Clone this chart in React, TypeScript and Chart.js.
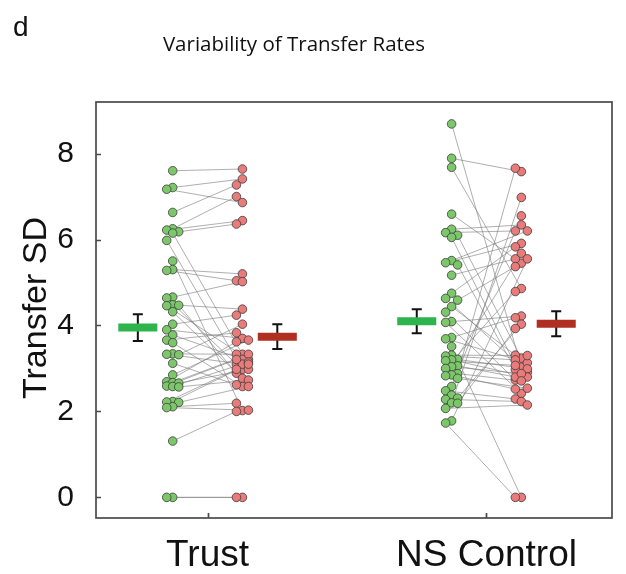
import React, { useEffect, useRef } from "react";
import { Chart, registerables } from "chart.js";

Chart.register(...registerables);

const categories = ["Trust", "NS Control"];
const yTickValues = [0, 2, 4, 6, 8];
const chartTitle = "Variability of Transfer Rates";
const panelLetter = "d";
const yAxisTitle = "Transfer SD";

// paired values: first condition (green) -> second condition (red)
const trustGreen = [7.60, 7.21, 7.17, 6.63, 6.25, 6.22, 6.18, 6.15, 5.98, 5.50, 5.30, 5.28, 4.66, 4.64, 4.48, 4.47, 4.46, 4.32, 4.03, 3.90, 3.78, 3.66, 3.60, 3.34, 3.33, 3.32, 3.12, 2.85, 2.69, 2.67, 2.66, 2.59, 2.58, 2.57, 2.23, 2.22, 2.21, 2.11, 2.09, 1.31, 0.0, 0.0];
const trustRed = [7.64, 7.41, 6.86, 7.27, 7.00, 6.44, 6.36, 3.33, 2.98, 2.02, 5.20, 5.04, 5.02, 3.10, 4.38, 2.89, 3.21, 2.77, 4.24, 3.70, 3.21, 3.83, 2.58, 3.33, 3.10, 4.03, 2.62, 3.66, 3.62, 3.33, 2.98, 3.21, 3.15, 2.73, 3.10, 2.98, 2.58, 2.19, 2.03, 2.00, 0.0, 0.0];
const nsGreen = [8.69, 7.89, 7.68, 6.59, 6.24, 6.16, 6.10, 6.05, 5.51, 5.46, 5.41, 5.17, 4.75, 4.63, 4.59, 4.44, 4.31, 4.09, 4.07, 3.72, 3.69, 3.51, 3.31, 3.29, 3.21, 3.20, 3.18, 3.06, 3.04, 3.00, 2.88, 2.85, 2.83, 2.77, 2.58, 2.48, 2.38, 2.31, 2.28, 2.20, 2.19, 2.07, 1.78, 1.73];
const nsRed = [3.03, 7.58, 4.86, 5.45, 6.34, 6.20, 3.24, 2.80, 6.20, 5.91, 2.97, 5.55, 5.83, 2.91, 5.37, 3.31, 2.73, 4.22, 2.42, 4.18, 3.13, 0.0, 3.30, 3.20, 2.99, 2.80, 3.07, 2.80, 2.88, 4.79, 2.71, 2.52, 5.68, 2.54, 6.55, 2.29, 7.66, 4.03, 2.23, 6.98, 3.93, 2.15, 5.55, 0.0];

const greenMeans = [3.95, 4.10];
const greenSEM = [0.31, 0.28];
const redMeans = [3.74, 4.04];
const redSEM = [0.29, 0.29];

const GREEN_DOT = "#7cc76a";
const RED_DOT = "#ea7b7b";
const GREEN_BAR = "#2fb34c";
const RED_BAR = "#b12f22";

const catX = [1, 2];
const dotOffset = 0.125;
const barOffset = 0.25;
const colStep = 0.0215;
const barHalf = 0.07;
const capHalf = 0.018;

function swarmColumns(values: number[]): number[] {
  const placed: { v: number; c: number }[] = [];
  const cols: number[] = [];
  const order = [0, -1, 1];
  for (const v of values) {
    let best = 0;
    let bestDist = -1;
    let chosen: number | null = null;
    for (const c of order) {
      let minD = Infinity;
      for (const p of placed) if (p.c === c) minD = Math.min(minD, Math.abs(p.v - v));
      if (minD >= 0.17) { chosen = c; break; }
      if (minD > bestDist) { bestDist = minD; best = c; }
    }
    const col = chosen === null ? best : chosen;
    placed.push({ v, c: col });
    cols.push(col);
  }
  return cols;
}

function dotPoints(values: number[], center: number) {
  const cols = swarmColumns(values);
  return values.map((v, i) => ({ x: center + cols[i] * colStep, y: v }));
}

const framePlugin = {
  id: "frame",
  afterDraw(chart: any) {
    const { ctx, chartArea } = chart;
    const xs = chart.scales.x;
    const ys = chart.scales.y;
    ctx.save();
    ctx.strokeStyle = "#4a4a4a";
    ctx.lineWidth = 1.7;
    ctx.strokeRect(chartArea.left, chartArea.top, chartArea.right - chartArea.left, chartArea.bottom - chartArea.top);
    ctx.beginPath();
    for (const v of yTickValues) {
      const py = Math.round(ys.getPixelForValue(v)) + 0.5;
      ctx.moveTo(chartArea.left, py);
      ctx.lineTo(chartArea.left + 5, py);
    }
    for (const v of catX) {
      const px = Math.round(xs.getPixelForValue(v)) + 0.5;
      ctx.moveTo(px, chartArea.bottom);
      ctx.lineTo(px, chartArea.bottom - 5);
    }
    ctx.stroke();

    ctx.fillStyle = "#111";
    ctx.font = "20.5px 'Open Sans'";
    ctx.textAlign = "center";
    ctx.textBaseline = "alphabetic";
    ctx.fillText(chartTitle, 294, 51);

    ctx.font = "28px 'Liberation Sans'";
    ctx.textAlign = "left";
    ctx.fillText(panelLetter, 13, 36);

    ctx.translate(37, 308);
    ctx.rotate(-Math.PI / 2);
    ctx.font = "34px 'Liberation Sans'";
    ctx.textAlign = "center";
    ctx.textBaseline = "middle";
    ctx.fillText(yAxisTitle, 0, 0);
    ctx.restore();
  },
};

export default function App() {
  const ref = useRef<HTMLCanvasElement | null>(null);
  useEffect(() => {
    document.body.style.margin = "0";
    if (!ref.current) return;

    const pairs = [
      { g: trustGreen, r: trustRed },
      { g: nsGreen, r: nsRed },
    ];
    const datasets: any[] = [];

    pairs.forEach((p, gi) => {
      const gPts = dotPoints(p.g, catX[gi] - dotOffset);
      const rPts = dotPoints(p.r, catX[gi] + dotOffset);
      const linePts: any[] = [];
      gPts.forEach((pt, i) => {
        linePts.push(pt, rPts[i], { x: null, y: null });
      });
      datasets.push({
        type: "line",
        data: linePts,
        borderColor: "rgba(120,120,120,0.75)",
        borderWidth: 0.8,
        pointRadius: 0,
        spanGaps: false,
        order: 6,
      });
      datasets.push({
        type: "scatter",
        data: gPts,
        backgroundColor: GREEN_DOT,
        borderColor: "#3c3c3c",
        borderWidth: 0.8,
        pointRadius: 4.3,
        order: 4,
      });
      datasets.push({
        type: "scatter",
        data: rPts,
        backgroundColor: RED_DOT,
        borderColor: "#3c3c3c",
        borderWidth: 0.8,
        pointRadius: 4.3,
        order: 3,
      });
    });

    const errPts: any[] = [];
    const greenBarPts: any[] = [];
    const redBarPts: any[] = [];
    catX.forEach((cx, gi) => {
      const items = [
        { x: cx - barOffset, m: greenMeans[gi], s: greenSEM[gi], arr: greenBarPts },
        { x: cx + barOffset, m: redMeans[gi], s: redSEM[gi], arr: redBarPts },
      ];
      for (const it of items) {
        errPts.push({ x: it.x, y: it.m - it.s }, { x: it.x, y: it.m + it.s }, { x: null, y: null });
        errPts.push({ x: it.x - capHalf, y: it.m + it.s }, { x: it.x + capHalf, y: it.m + it.s }, { x: null, y: null });
        errPts.push({ x: it.x - capHalf, y: it.m - it.s }, { x: it.x + capHalf, y: it.m - it.s }, { x: null, y: null });
        it.arr.push({ x: it.x - barHalf, y: it.m }, { x: it.x + barHalf, y: it.m }, { x: null, y: null });
      }
    });
    datasets.push({
      type: "line",
      data: errPts,
      borderColor: "#111",
      borderWidth: 2,
      pointRadius: 0,
      spanGaps: false,
      borderCapStyle: "butt",
      order: 2,
    });
    datasets.push({
      type: "line",
      data: greenBarPts,
      borderColor: GREEN_BAR,
      borderWidth: 8,
      pointRadius: 0,
      spanGaps: false,
      borderCapStyle: "butt",
      order: 1,
    });
    datasets.push({
      type: "line",
      data: redBarPts,
      borderColor: RED_BAR,
      borderWidth: 8,
      pointRadius: 0,
      spanGaps: false,
      borderCapStyle: "butt",
      order: 1,
    });

    const chart = new Chart(ref.current, {
      type: "scatter",
      data: { datasets },
      options: {
        animation: false,
        responsive: false,
        events: [],
        layout: { padding: { left: 0, top: 102, right: 14, bottom: 0 } },
        plugins: { legend: { display: false }, tooltip: { enabled: false } },
        scales: {
          x: {
            type: "linear",
            min: 0.6,
            max: 2.45,
            grid: { display: false, drawTicks: false },
            border: { display: false },
            afterBuildTicks: (axis: any) => {
              axis.ticks = catX.map((v) => ({ value: v }));
            },
            afterFit: (axis: any) => {
              axis.height = 56;
            },
            ticks: {
              autoSkip: false,
              maxRotation: 0,
              padding: 16,
              color: "#111",
              font: { family: "'Liberation Sans'", size: 37 },
              callback: (v: any) => {
                const idx = catX.indexOf(Number(v));
                return idx >= 0 ? categories[idx] : "";
              },
            },
          },
          y: {
            type: "linear",
            min: -0.48,
            max: 9.2,
            grid: { display: false, drawTicks: false },
            border: { display: false },
            afterBuildTicks: (axis: any) => {
              axis.ticks = yTickValues.map((v) => ({ value: v }));
            },
            afterFit: (axis: any) => {
              axis.width = 96;
            },
            ticks: {
              padding: 22,
              color: "#111",
              font: { family: "'Liberation Sans'", size: 30 },
            },
          },
        },
      },
      plugins: [framePlugin],
    });
    return () => chart.destroy();
  }, []);

  return (
    <div style={{ width: 626, height: 574, background: "#fff" }}>
      <canvas ref={ref} width={626} height={574} style={{ display: "block" }} />
    </div>
  );
}
